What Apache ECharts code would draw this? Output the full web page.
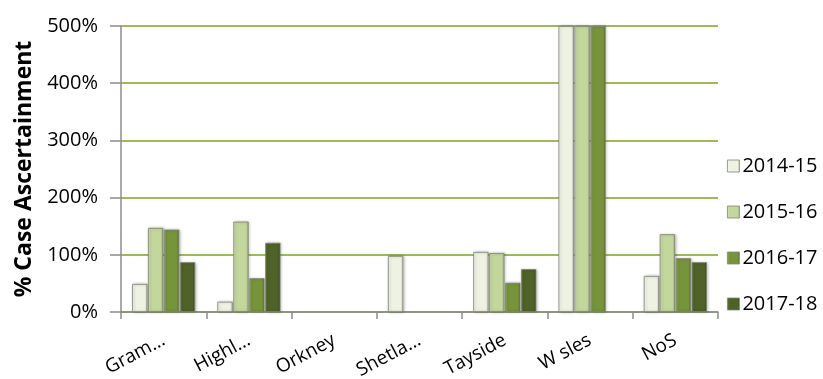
<!DOCTYPE html>
<html>
<head>
<meta charset="utf-8">
<script src="https://cdn.jsdelivr.net/npm/echarts@6/dist/echarts.min.js"></script>
<style>
  html, body { margin: 0; padding: 0; background: #fff; }
  #chart { width: 823px; height: 379px; }
</style>
</head>
<body>
<div id="chart"></div>
<script>
// categories (labels as shown, truncated)
const categories = ['Gram…', 'Highl…', 'Orkney', 'Shetla…', 'Tayside', 'W sles', 'NoS'];
const yTicks = [0, 100, 200, 300, 400, 500];

// % case ascertainment per year
const y2014 = [49, 18, null, 98, 105, 500, 63];
const y2015 = [147, 158, null, null, 103, 500, 136];
const y2016 = [144, 59, null, null, 51, 500, 94];
const y2017 = [87, 121, null, null, 75, null, 87];

const seriesNames = ['2014-15', '2015-16', '2016-17', '2017-18'];
const seriesData = [y2014, y2015, y2016, y2017];
// base, light edge, dark edge
const palette = [
  ['#eef2e3', '#ffffff', '#c4c8b8'],
  ['#c3d69b', '#dde9c3', '#9aab78'],
  ['#77933c', '#9ab85e', '#566c26'],
  ['#4f6228', '#6b803d', '#37461a'],
];

function bevel(c) {
  return new echarts.graphic.LinearGradient(0, 0, 1, 0, [
    { offset: 0, color: c[1] },
    { offset: 0.16, color: c[0] },
    { offset: 0.84, color: c[0] },
    { offset: 1, color: c[2] },
  ]);
}

const chart = echarts.init(document.getElementById('chart'));

const series = seriesNames.map((name, i) => ({
  name,
  type: 'bar',
  data: seriesData[i],
  barGap: '4%',
  barCategoryGap: '26%',
  itemStyle: {
    color: bevel(palette[i]),
    borderColor: '#7f8476',
    borderWidth: 0.8,
    shadowColor: 'rgba(0,0,0,0.25)',
    shadowBlur: 3,
    shadowOffsetX: 1,
  },
}));

chart.setOption({
  animation: false,
  textStyle: { fontFamily: 'Open Sans' },
  grid: { left: 121, right: 105, top: 26, bottom: 67, containLabel: false, outerBoundsMode: 'none' },
  legend: {
    orient: 'vertical',
    left: 722,
    top: 151,
    itemWidth: 12,
    itemHeight: 12,
    itemGap: 26,
    icon: 'rect',
    textStyle: { fontSize: 20, color: '#000', fontFamily: 'Open Sans', padding: [0, 0, 0, -2] },
    data: seriesNames.map((n, i) => ({
      name: n,
      itemStyle: { color: bevel(palette[i]), borderColor: '#7f8476', borderWidth: 0.8 },
    })),
  },
  xAxis: {
    type: 'category',
    data: categories,
    axisLine: { lineStyle: { color: '#8c8c8c', width: 1.5 } },
    axisTick: { show: true, length: 7, lineStyle: { color: '#8c8c8c', width: 1.5 } },
    axisLabel: {
      rotate: 28,
      fontSize: 19,
      color: '#000',
      margin: 27,
      interval: 0,
      fontFamily: 'Open Sans',
    },
  },
  yAxis: {
    type: 'value',
    min: 0,
    max: 500,
    interval: 100,
    name: '% Case Ascertainment',
    nameLocation: 'middle',
    nameGap: 80,
    nameRotate: 90,
    nameTextStyle: { fontSize: 23, fontWeight: 'bold', color: '#000', fontFamily: 'Open Sans' },
    axisLine: { show: true, lineStyle: { color: '#8c8c8c', width: 1.5 } },
    axisTick: { show: true, length: 11, lineStyle: { color: '#8c8c8c', width: 1.5 } },
    axisLabel: {
      fontSize: 20,
      color: '#000',
      margin: 23,
      fontFamily: 'Open Sans',
      formatter: (v) => (yTicks.includes(v) ? v + '%' : ''),
    },
    splitLine: { lineStyle: { color: '#9bbb59', width: 2 } },
  },
  series,
});
</script>
</body>
</html>
